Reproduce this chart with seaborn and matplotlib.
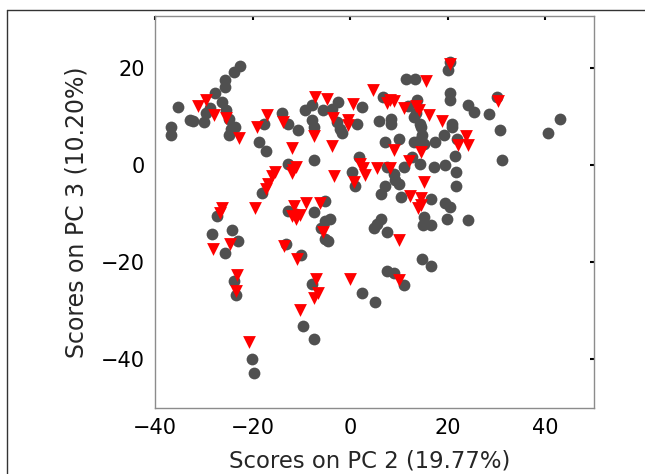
import pandas as pd
import matplotlib
matplotlib.use("Agg")
import matplotlib.pyplot as plt
from matplotlib.lines import Line2D
import seaborn as sns

# PCA scores (PC 2 vs PC 3)
grey_pc2 = [-36.7, -36.7, -35.3, -32.9, -32.2, -30.0, -29.5, -28.7, -27.8, -26.2,
            -25.7, -25.7, -25.5, -24.9, -24.5, -24.9, -23.9, -22.6, -23.6, -18.7,
            -17.3, -17.7, -13.9, -12.7, -10.6, -9.3, -7.8, -7.8, -7.5, -7.3,
            -5.5, -3.8, -2.4, -2.7, -2.0, -1.7, 1.5, 2.5, 1.9, 0.4,
            1.0, -12.7, 5.9, 6.8, 8.3, 8.4, 7.2, 10.1, 11.4, 13.3,
            11.8, 13.7, 13.5, 14.3, 14.5, 14.8, 13.1, 14.5, 15.2, 12.7,
            14.3, 17.3, 19.4, 19.2, 17.5, 20.5, 20.5, 20.5, 20.0, 20.9,
            20.9, 21.5, 21.8, 21.8, 21.9, 24.1, 25.4, 28.4, 30.7, 30.2,
            31.2, 40.5, 43.0, 11.0, 7.6, 8.9, 9.3, 10.1, 7.2, 6.3,
            10.5, 16.5, 19.4, 20.5, 19.8, 24.1, 15.2, 15.0, 16.5, 6.3,
            5.5, 4.9, 7.6, 14.8, 16.5, 7.6, 8.9, 11.0, 2.5, 5.1,
            -5.1, -7.3, -12.7, -11.0, -5.1, -4.2, -5.9, -5.1, -4.6, -13.2,
            -10.1, -7.9, -9.7, -7.3, -18.1, -27.2, -28.4, -24.2, -22.9, -25.7,
            -23.8, -23.4, -20.1, -19.7, 13.1]
grey_pc3 = [7.8, 6.1, 11.8, 9.2, 9.0, 8.8, 10.6, 11.6, 14.7, 13.0,
            16.1, 17.4, 11.2, 9.5, 7.4, 6.1, 19.0, 20.4, 7.8, 4.7,
            2.8, 8.5, 10.6, 8.5, 7.1, 11.2, 12.3, 9.2, 7.8, 0.9,
            11.2, 11.4, 13.0, 8.8, 7.4, 6.6, 8.5, 11.9, 1.6, -1.5,
            -4.3, 0.2, 9.0, 14.0, 9.5, 8.3, 4.7, 5.4, 17.7, 17.7,
            12.1, 13.4, 10.6, 8.5, 7.8, 6.1, 4.7, 5.4, 4.2, 1.6,
            0.1, -0.5, 0.0, 6.1, 4.7, 14.7, 13.3, 21.2, 19.4, 8.5,
            7.8, 1.9, -1.5, -4.3, 5.4, 12.3, 10.9, 10.4, 7.1, 14.0,
            0.9, 6.6, 9.5, -0.5, -0.5, -1.9, -3.2, -3.9, -4.3, -6.0,
            -6.7, -7.0, -7.9, -8.6, -11.2, -11.4, -10.7, -12.3, -12.3, -11.2,
            -12.2, -12.9, -13.9, -19.4, -20.8, -21.9, -22.2, -24.8, -26.3, -28.1,
            -7.4, -9.6, -9.5, -10.1, -11.5, -11.2, -12.9, -15.3, -15.7, -16.3,
            -18.6, -24.6, -33.2, -35.8, -5.7, -10.5, -14.3, -13.4, -15.7, -18.1,
            -23.9, -26.7, -40.0, -42.9, 9.8]

red_pc2 = [-31.1, -29.5, -28.0, -25.5, -22.8, -19.0, -17.0, -13.7, -12.0, -7.5,
           -7.1, -4.7, -3.6, -3.8, -0.4, -0.5, 0.5, 4.6, 7.5, 8.2,
           9.1, 11.1, 13.6, 14.1, 16.1, 18.9, 15.5, 20.4, 30.4, 23.8,
           22.2, 24.2, 9.1, 14.5, 12.0, 2.0, 2.6, 3.0, 5.6, 8.1,
           0.9, -3.3, -15.4, -16.0, -16.9, -17.3, -11.7, -11.0, -12.0, -19.4,
           -26.2, -26.6, -11.5, -9.1, -10.3, -11.1, -12.0, -6.2, -5.6, -13.5,
           -10.8, -24.7, -28.2, -23.2, -23.3, -7.0, -6.6, -7.5, -10.3, -20.8,
           0.0, 10.0, 10.0, 15.2, 12.3, 14.6, 14.5, 13.9]
red_pc3 = [12.1, 13.3, 10.2, 9.7, 5.5, 7.8, 10.2, 8.8, 3.5, 5.9,
           13.9, 13.5, 9.7, 3.9, 9.2, 8.1, 12.6, 15.4, 12.8, 13.3,
           13.2, 11.7, 12.0, 11.2, 10.2, 9.1, 17.3, 20.7, 13.1, 5.9,
           4.1, 4.0, 3.0, 2.6, 0.8, 0.2, -0.6, -2.1, -0.7, -0.7,
           -3.6, -2.2, -1.5, -2.2, -3.9, -5.0, -1.0, -0.5, -1.6, -8.8,
           -8.9, -9.8, -8.4, -7.9, -10.3, -11.1, -10.6, -7.8, -13.9, -16.7,
           -19.4, -16.3, -17.4, -22.6, -26.0, -23.5, -26.4, -27.4, -29.8, -36.5,
           -23.5, -23.6, -15.5, -3.6, -6.5, -6.8, -8.2, -8.9]

x_ticks = [-40, -20, 0, 20, 40]
y_ticks = [-40, -20, 0, 20]

grey_df = pd.DataFrame({"PC2": grey_pc2, "PC3": grey_pc3})
red_df = pd.DataFrame({"PC2": red_pc2, "PC3": red_pc3})

sns.set_style("white")
plt.rcParams["font.family"] = ["DejaVu Sans"]

fig = plt.figure(figsize=(6.45, 4.74), dpi=100)
ax = fig.add_axes([0.2403, 0.1392, 0.6806, 0.8270])

sns.scatterplot(data=grey_df, x="PC2", y="PC3", ax=ax, color="#505050",
                marker="o", s=72, linewidth=0)
sns.scatterplot(data=red_df, x="PC2", y="PC3", ax=ax, color="#ff0000",
                marker="v", s=85, linewidth=0)

ax.set_xlim(-40, 50)
ax.set_ylim(-50, 30.6)
ax.set_xticks(x_ticks)
ax.set_yticks(y_ticks)
ax.tick_params(direction="in", top=True, right=True, length=3, width=1.5,
               color="black", labelsize=15, pad=7, labelcolor="black")
for sp in ax.spines.values():
    sp.set_color("#8c8c8c")
    sp.set_linewidth(1)

ax.set_xlabel("Scores on PC 2 (19.77%)", fontsize=16.4, va="baseline")
ax.set_ylabel("Scores on PC 3 (10.20%)", fontsize=17, va="baseline")
ax.xaxis.set_label_coords(0.49, -0.151)
ax.yaxis.set_label_coords(-0.162, 0.5)

# outer frame around the figure
fig.add_artist(Line2D([7 / 645, 1.0], [1 - 10 / 474, 1 - 10 / 474],
                      transform=fig.transFigure, color="#333333", lw=1))
fig.add_artist(Line2D([7 / 645, 7 / 645], [0.0, 1 - 10 / 474],
                      transform=fig.transFigure, color="#333333", lw=1))

fig.savefig("out.png", dpi=100)
